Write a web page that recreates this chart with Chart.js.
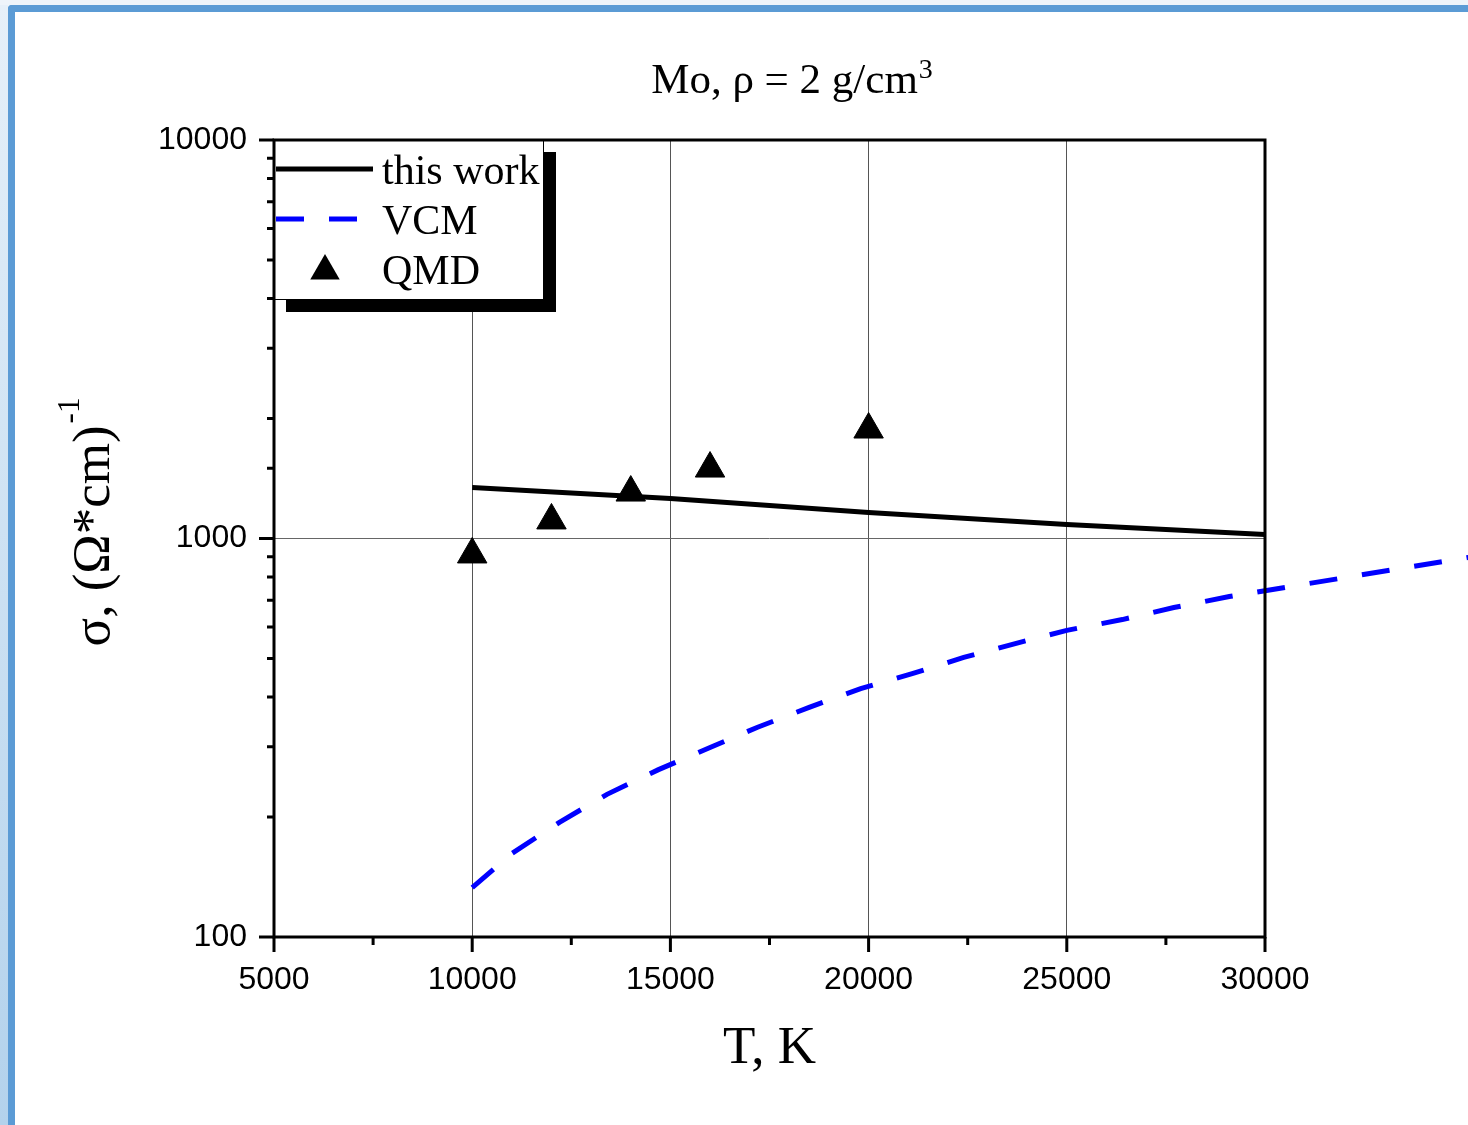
<!DOCTYPE html>
<html>
<head>
<meta charset="utf-8">
<script src="https://cdn.jsdelivr.net/npm/chart.js@4.4.1/dist/chart.umd.min.js"></script>
<style>
  body { margin: 0; width: 1468px; height: 1125px; overflow: hidden; position: relative; background: #eef4fa; }
  #strip { position: absolute; left: 0; top: 5px; width: 8px; height: 1120px; background: linear-gradient(#e6f0f9, #b3d2ec); }
  #frame { position: absolute; left: 8px; top: 5px; right: 0; bottom: 0; border-top: 7px solid #5b9bd5; border-left: 7px solid #5b9bd5; border-top-left-radius: 4px; background: #fff; }
  canvas { position: absolute; left: 0; top: 0; }
</style>
</head>
<body>
<div id="strip"></div>
<div id="frame"></div>
<canvas id="chart1" width="1468" height="1125"></canvas>
<script>
// T in K, sigma in (Ohm*cm)^-1
const workT = [10000, 15000, 20000, 25000, 30000];
const workSigma = [1343, 1260, 1162, 1084, 1023];

// VCM curve runs on past the right edge of the frame
const vcmT = [10000, 11000, 12200, 13400, 14700, 16000, 17200, 18500, 19800, 21100, 22400, 23700, 25000, 26400, 27700, 29100, 35200];
const vcmSigma = [133, 162, 194, 228, 263, 299, 336, 377, 420, 458, 503, 545, 588, 626, 671, 715, 899];

const qmdT = [10000, 12000, 14000, 16000, 20000];
const qmdSigma = [912, 1110, 1304, 1498, 1877];

const xLabels = [5000, 10000, 15000, 20000, 25000, 30000];
const yLabels = [100, 1000, 10000];

const serif = '"Liberation Serif", "Times New Roman", serif';
const sans = '"Liberation Sans", Arial, sans-serif';

function pts(xs, ys) {
  return xs.map((x, i) => ({x: x, y: ys[i]}));
}

function triangle(ctx, x, y, r) {
  ctx.beginPath();
  ctx.moveTo(x, y - r);
  ctx.lineTo(x + r * Math.sin(Math.PI / 3), y + r / 2);
  ctx.lineTo(x - r * Math.sin(Math.PI / 3), y + r / 2);
  ctx.closePath();
  ctx.fill();
}

const decor = {
  id: 'decor',
  afterDatasetsDraw(chart) {
    const ctx = chart.ctx, a = chart.chartArea;
    const xs = chart.scales.x, ys = chart.scales.y;
    ctx.save();

    // legend box with shadow
    const lx = a.left, ly = a.top, lw = 270, lh = 160;
    ctx.fillStyle = '#000';
    ctx.fillRect(lx + 12, ly + 12, lw, lh);
    ctx.fillStyle = '#fff';
    ctx.fillRect(lx, ly, lw, lh);
    ctx.lineWidth = 1;
    ctx.strokeStyle = '#000';
    ctx.strokeRect(lx + 0.5, ly + 0.5, lw - 1, lh - 1);

    ctx.font = '42px ' + serif;
    ctx.textBaseline = 'alphabetic';
    ctx.textAlign = 'left';
    chart.data.datasets.forEach((ds, i) => {
      const cy = ly + 29 + 50 * i;
      if (ds.showLine === false) {
        ctx.fillStyle = ds.pointBackgroundColor;
        triangle(ctx, lx + 51, cy + 2, ds.pointRadius);
      } else {
        ctx.beginPath();
        ctx.setLineDash(ds.borderDash || []);
        ctx.lineWidth = ds.borderWidth;
        ctx.strokeStyle = ds.borderColor;
        ctx.moveTo(lx + 2, cy);
        ctx.lineTo(lx + 99, cy);
        ctx.stroke();
        ctx.setLineDash([]);
      }
      ctx.fillStyle = '#000';
      ctx.fillText(ds.label, lx + 108, cy + 15);
    });

    // frame
    ctx.strokeStyle = '#000';
    ctx.lineWidth = 3;
    ctx.strokeRect(a.left, a.top, a.right - a.left, a.bottom - a.top);

    // tick marks, major and minor
    ctx.beginPath();
    xs.ticks.forEach(t => {
      const px = xs.getPixelForValue(t.value);
      const len = t.value % 5000 === 0 ? 15 : 8;
      ctx.moveTo(px, a.bottom);
      ctx.lineTo(px, a.bottom + len);
    });
    ys.ticks.forEach(t => {
      const py = ys.getPixelForValue(t.value);
      const len = yLabels.includes(t.value) ? 15 : 7;
      ctx.moveTo(a.left, py);
      ctx.lineTo(a.left - len, py);
    });
    ctx.stroke();
    ctx.restore();
  },
  afterDraw(chart) {
    const ctx = chart.ctx, a = chart.chartArea;
    const cx = (a.left + a.right) / 2;
    ctx.save();
    ctx.fillStyle = '#000';
    ctx.textBaseline = 'alphabetic';
    ctx.textAlign = 'left';

    // title with superscript
    ctx.font = '43px ' + serif;
    const t1 = 'Mo, ρ = 2 g/cm';
    const w1 = ctx.measureText(t1).width;
    ctx.font = '28px ' + serif;
    const w2 = ctx.measureText('3').width;
    const x0 = cx + 22 - (w1 + w2) / 2;
    ctx.font = '43px ' + serif;
    ctx.fillText(t1, x0, 93);
    ctx.font = '28px ' + serif;
    ctx.fillText('3', x0 + w1 + 1, 78);

    // x title
    ctx.font = '53px ' + serif;
    ctx.textAlign = 'center';
    ctx.fillText('T, K', cx, 1063);

    // y title, rotated
    ctx.textAlign = 'left';
    const y1 = 'σ, (Ω*cm)';
    const yw1 = ctx.measureText(y1).width;
    ctx.font = '31px ' + serif;
    const yw2 = ctx.measureText('-1').width;
    ctx.translate(109, 523 + (yw1 + yw2) / 2);
    ctx.rotate(-Math.PI / 2);
    ctx.font = '53px ' + serif;
    ctx.fillText(y1, 0, 0);
    ctx.font = '31px ' + serif;
    ctx.fillText('-1', yw1 + 2, -30);
    ctx.restore();
  }
};

new Chart(document.getElementById('chart1'), {
  type: 'line',
  data: {
    datasets: [{
        label: 'this work',
        data: pts(workT, workSigma),
        borderColor: '#000000',
        borderWidth: 5,
        pointRadius: 0,
        order: 1,
        fill: false
      }, {
        label: 'VCM',
        data: pts(vcmT, vcmSigma),
        borderColor: '#0000ff',
        borderWidth: 5,
        borderDash: [28, 25],
        pointRadius: 0,
        clip: false,
        order: 2,
        fill: false
      }, {
        label: 'QMD',
        data: pts(qmdT, qmdSigma),
        showLine: false,
        pointStyle: 'triangle',
        pointRadius: 17,
        pointBackgroundColor: '#000000',
        pointBorderColor: '#000000',
        pointBorderWidth: 1,
        order: 0
      }
    ]
  },
  plugins: [decor],
  options: {
    responsive: false,
    animation: false,
    events: [],
    layout: { padding: { left: 0, top: 140, right: 203, bottom: 88 } },
    plugins: {
      legend: { display: false },
      title: { display: false },
      tooltip: { enabled: false }
    },
    scales: {
      x: {
        type: 'linear',
        min: 5000,
        max: 30000,
        afterFit: s => { s.height = 100; },
        border: { display: false },
        grid: {
          drawTicks: false,
          lineWidth: 1,
          color: c => (c.tick && c.tick.value % 5000 === 0) ? '#555' : 'rgba(0,0,0,0)'
        },
        ticks: {
          stepSize: 2500,
          autoSkip: false,
          maxRotation: 0,
          padding: 24,
          color: '#000',
          font: { family: sans, size: 32 },
          callback: v => xLabels.includes(v) ? String(v) : ''
        }
      },
      y: {
        type: 'logarithmic',
        min: 100,
        max: 10000,
        afterFit: s => { s.width = 274; },
        border: { display: false },
        grid: {
          drawTicks: false,
          lineWidth: 1,
          color: c => (c.tick && c.tick.value === 1000) ? '#666' : 'rgba(0,0,0,0)'
        },
        ticks: {
          autoSkip: false,
          padding: 27,
          color: '#000',
          font: { family: sans, size: 32 },
          callback: v => yLabels.includes(v) ? String(v) : ''
        }
      }
    }
  }
});
</script>
</body>
</html>
